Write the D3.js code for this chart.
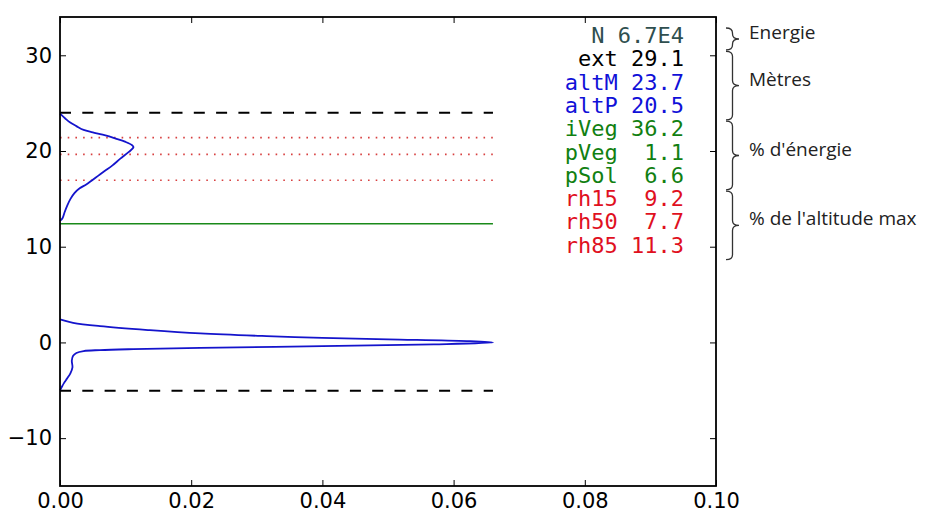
<!DOCTYPE html>
<html>
<head>
<meta charset="utf-8">
<script src="https://cdn.jsdelivr.net/npm/d3@7/dist/d3.min.js"></script>
<style>
  html, body { margin: 0; padding: 0; background: #fff; }
  svg { display: block; }
</style>
</head>
<body>
<svg id="chart" width="932" height="514"></svg>
<script>
// waveform profile, canopy part: [energy fraction, altitude m]
const canopyProfile = [
  [0, 23.9], [0.0008, 23.4], [0.0015, 23.0], [0.0025, 22.6], [0.0036, 22.2],
  [0.0050, 21.95], [0.0065, 21.7], [0.0085, 21.3], [0.0100, 20.95], [0.0110, 20.6],
  [0.0112, 20.4], [0.0105, 19.9], [0.0092, 19.2], [0.0080, 18.5], [0.0068, 17.9],
  [0.0058, 17.4], [0.0048, 16.9], [0.0040, 16.5], [0.0030, 16.1], [0.0022, 15.6],
  [0.0016, 15.0], [0.0011, 14.3], [0.0007, 13.6], [0.0004, 13.0], [0, 12.7]
];
// ground return
const groundProfile = [
  [0, 2.4], [0.002, 2.05], [0.0061, 1.7], [0.0137, 1.28], [0.0214, 0.94],
  [0.0315, 0.66], [0.040, 0.48], [0.050, 0.32], [0.062, 0.14], [0.066, 0.0],
  [0.057, -0.2], [0.040, -0.39], [0.0214, -0.56], [0.0112, -0.7], [0.0061, -0.8],
  [0.0036, -0.9], [0.0025, -1.1], [0.0020, -1.4], [0.0018, -1.9], [0.0019, -2.6],
  [0.0016, -3.2], [0.0011, -3.75], [0.0006, -4.25], [0.0002, -4.75], [0, -5.0]
];

const dashedLevels = [24.0, -5.05];      // altitude max / ground
const vegLevel = 12.4;                   // vegetation threshold
const rhLevels = [21.4, 19.65, 16.95];   // rh85, rh50, rh15
const lineEnd = 0.066;

const xTicks = [0, 0.02, 0.04, 0.06, 0.08, 0.10];
const yTicks = [-10, 0, 10, 20, 30];

const statLines = ["N 6.7E4", "ext 29.1", "altM 23.7", "altP 20.5", "iVeg 36.2",
                   "pVeg  1.1", "pSol  6.6", "rh15  9.2", "rh50  7.7", "rh85 11.3"];
const statColors = ["#2f4f4f", "#000000", "#1010d8", "#1010d8", "#118011",
                    "#118011", "#118011", "#e0101e", "#e0101e", "#e0101e"];

const groupLabels = ["Energie", "Mètres", "% d'énergie", "% de l'altitude max"];
const groupRows = [[0, 0], [1, 3], [4, 6], [7, 9]];

const margin = { top: 17, right: 216, bottom: 28, left: 60 };
const width = 932, height = 514;

const svg = d3.select('#chart');

const x = d3.scaleLinear().domain([0, 0.1]).range([margin.left, width - margin.right]);
const y = d3.scaleLinear().domain([-15, 34]).range([height - margin.bottom, margin.top]);

const plot = svg.append('g');

// horizontal reference lines
plot.selectAll('.dash-line')
  .data(dashedLevels)
  .enter().append('line')
  .attr('x1', x(0)).attr('x2', x(lineEnd))
  .attr('y1', d => y(d)).attr('y2', d => y(d))
  .style('stroke', '#000')
  .style('stroke-width', 2)
  .style('stroke-dasharray', '11,11.3');

plot.selectAll('.rh-line')
  .data(rhLevels)
  .enter().append('line')
  .attr('x1', x(0)).attr('x2', x(lineEnd))
  .attr('y1', d => y(d)).attr('y2', d => y(d))
  .style('stroke', '#d84040')
  .style('stroke-width', 1.6)
  .style('stroke-dasharray', '1.6,6.1');

plot.append('line')
  .attr('x1', x(0)).attr('x2', x(lineEnd))
  .attr('y1', y(vegLevel)).attr('y2', y(vegLevel))
  .style('stroke', '#1a8a1a')
  .style('stroke-width', 1.6);

// profile curves
let line = d3.line()
  .x(d => x(d[0]))
  .y(d => y(d[1]))
  .curve(d3.curveCatmullRom.alpha(0.5));

[canopyProfile, groundProfile].forEach(p => {
  plot.append('path')
    .datum(p)
    .attr('d', line)
    .style('fill', 'none')
    .style('stroke', '#1414cc')
    .style('stroke-width', 1.8);
});

// axes, ticks pointing in on all four sides
const tickLen = 6;
const axisFont = '"DejaVu Sans", sans-serif';

svg.append('g')
  .attr('transform', `translate(0, ${y(-15)})`)
  .call(d3.axisBottom(x).tickValues(xTicks).tickSizeInner(-tickLen).tickSizeOuter(0)
    .tickPadding(7).tickFormat(d3.format('.2f')));
svg.append('g')
  .attr('transform', `translate(0, ${y(34)})`)
  .call(d3.axisTop(x).tickValues(xTicks).tickSizeInner(-tickLen).tickSizeOuter(0).tickFormat(''));
svg.append('g')
  .attr('transform', `translate(${x(0)}, 0)`)
  .call(d3.axisLeft(y).tickValues(yTicks).tickSizeInner(-tickLen).tickSizeOuter(0)
    .tickPadding(8).tickFormat(d => d < 0 ? '\u2212' + Math.abs(d) : d));
svg.append('g')
  .attr('transform', `translate(${x(0.1)}, 0)`)
  .call(d3.axisRight(y).tickValues(yTicks).tickSizeInner(-tickLen).tickSizeOuter(0).tickFormat(''));

svg.selectAll('.domain').remove();
svg.selectAll('.tick line').style('stroke', '#000').style('stroke-width', 1);
svg.selectAll('.tick text')
  .style('font-family', axisFont)
  .style('font-size', '21px')
  .style('fill', '#000');

// frame
svg.append('rect')
  .attr('x', x(0)).attr('y', y(34))
  .attr('width', x(0.1) - x(0)).attr('height', y(-15) - y(34))
  .style('fill', 'none')
  .style('stroke', '#000')
  .style('stroke-width', 1.8);

// stats block
const rowY = i => 43 + i * 23.3;
svg.append('g').selectAll('text')
  .data(statLines)
  .enter().append('text')
  .attr('x', 684)
  .attr('y', (d, i) => rowY(i))
  .attr('text-anchor', 'end')
  .attr('xml:space', 'preserve')
  .style('white-space', 'pre')
  .style('font-family', '"DejaVu Sans Mono", monospace')
  .style('font-size', '22px')
  .style('fill', (d, i) => statColors[i])
  .text(d => d);

// braces + group labels
let bracePath = (x0, y0, y1, w) => {
  const xm = x0 + w / 2, ym = (y0 + y1) / 2, r = 5;
  return `M${x0},${y0} Q${xm},${y0} ${xm},${y0 + r} L${xm},${ym - r} Q${xm},${ym} ${x0 + w},${ym}` +
    ` Q${xm},${ym} ${xm},${ym + r} L${xm},${y1 - r} Q${xm},${y1} ${x0},${y1}`;
};

const ann = svg.append('g');
groupRows.forEach((g, i) => {
  const top = rowY(g[0]) - 15, bot = rowY(g[1]) + 7;
  ann.append('path')
    .attr('d', bracePath(726, top, bot, 13))
    .style('fill', 'none')
    .style('stroke', '#333')
    .style('stroke-width', 1.3);
  ann.append('text')
    .attr('x', 749)
    .attr('y', (top + bot) / 2)
    .style('font-family', '"Open Sans", sans-serif')
    .style('font-size', '19px')
    .style('fill', '#222')
    .text(groupLabels[i]);
});
</script>
</body>
</html>
